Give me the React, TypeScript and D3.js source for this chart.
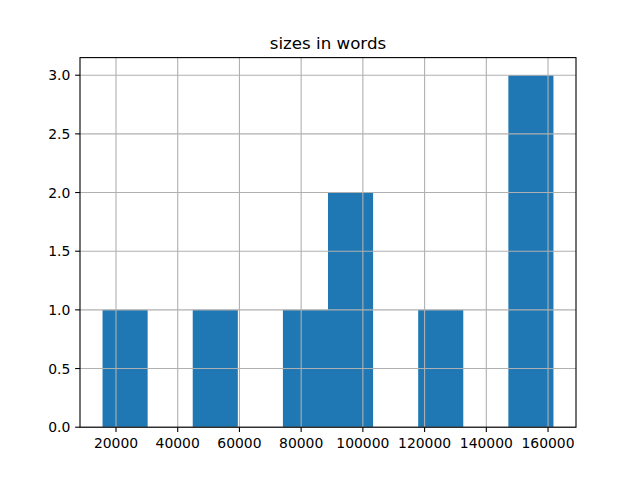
import React from "react";
import * as d3 from "d3";

const sizes: number[] = [15643, 50000, 80000, 95000, 100000, 125000, 150000, 155000, 161756];
const binCount = 10;
const xTicks: number[] = [20000, 40000, 60000, 80000, 100000, 120000, 140000, 160000];
const yTicks: number[] = [0, 0.5, 1.0, 1.5, 2.0, 2.5, 3.0];
const title = "sizes in words";

const W = 640, H = 480;
const L = 80, R = 576, T = 57.6, B = 427.2;
const FONT = "DejaVu Sans, sans-serif";

export default function App() {
  const lo = d3.min(sizes)!;
  const hi = d3.max(sizes)!;
  const step = (hi - lo) / binCount;
  const edges = d3.range(binCount + 1).map((i) => lo + i * step);
  const counts = d3.range(binCount).map((i) =>
    sizes.filter((v) => v >= edges[i] && (i === binCount - 1 ? v <= edges[i + 1] : v < edges[i + 1])).length
  );
  const pad = (hi - lo) * 0.05;
  const x = d3.scaleLinear().domain([lo - pad, hi + pad]).range([L, R]);
  const yMax = d3.max(counts)! * 1.05;
  const y = d3.scaleLinear().domain([0, yMax]).range([B, T]);
  const tick = 4.86;
  const grid = "#b0b0b0";

  return (
    <svg width={W} height={H} style={{ position: "absolute", left: 0, top: 0, background: "#fff" }} fontFamily={FONT}>
      <rect x={0} y={0} width={W} height={H} fill="#fff" />
      {counts.map((c, i) =>
        c > 0 ? (
          <rect key={i} x={x(edges[i])} y={y(c)} width={x(edges[i + 1]) - x(edges[i])} height={y(0) - y(c)} fill="#1f77b4" />
        ) : null
      )}
      {xTicks.map((t) => (
        <line key={"gx" + t} x1={x(t)} x2={x(t)} y1={T} y2={B} stroke={grid} strokeWidth={1.1} />
      ))}
      {yTicks.map((t) => (
        <line key={"gy" + t} x1={L} x2={R} y1={y(t)} y2={y(t)} stroke={grid} strokeWidth={1.1} />
      ))}
      <rect x={L} y={T} width={R - L} height={B - T} fill="none" stroke="#000" strokeWidth={1.1} />
      {xTicks.map((t) => (
        <g key={"tx" + t}>
          <line x1={x(t)} x2={x(t)} y1={B} y2={B + tick} stroke="#000" strokeWidth={1.1} />
          <text x={x(t)} y={448} textAnchor="middle" fontSize={13.9} fill="#000">
            {t}
          </text>
        </g>
      ))}
      {yTicks.map((t) => (
        <g key={"ty" + t}>
          <line x1={L - tick} x2={L} y1={y(t)} y2={y(t)} stroke="#000" strokeWidth={1.1} />
          <text x={L - tick - 4.86} y={y(t)} dy="0.36em" textAnchor="end" fontSize={13.9} fill="#000">
            {t.toFixed(1)}
          </text>
        </g>
      ))}
      <text x={(L + R) / 2} y={49.3} textAnchor="middle" fontSize={16.67} fill="#000">
        {title}
      </text>
    </svg>
  );
}
